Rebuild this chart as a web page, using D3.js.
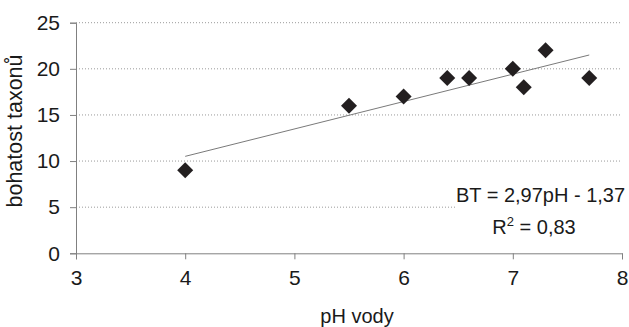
<!DOCTYPE html>
<html>
<head>
<meta charset="utf-8">
<script src="https://cdn.jsdelivr.net/npm/d3@7"></script>
<style>
  body { margin: 0; background: #fff; }
  svg text { font-family: "Liberation Sans", Arial, sans-serif; fill: #1a1a1a; }
</style>
</head>
<body>
<div id="chart"></div>
<script>
// measured values (pH vs. taxon richness)
const phValues = [4, 5.5, 6, 6.4, 6.6, 7, 7.1, 7.3, 7.7];
const richness = [9, 16, 17, 19, 19, 20, 18, 22, 19];
const xTicks = [3, 4, 5, 6, 7, 8];
const yTicks = [0, 5, 10, 15, 20, 25];
const trendCoef = [2.97, -1.37]; // slope, intercept
const eqLines = ['BT = 2,97pH - 1,37', 'R', '2', ' = 0,83'];

const width = 629, height = 327;
const margin = { top: 22.7, right: 7, bottom: 73.7, left: 76 };

const svg = d3.select('#chart').append('svg')
    .attr('width', width).attr('height', height);

const x = d3.scaleLinear().domain([3, 8]).range([margin.left, width - margin.right]);
const y = d3.scaleLinear().domain([0, 25]).range([height - margin.bottom, margin.top]);

// dotted gridlines
svg.append('g').selectAll('line')
    .data(yTicks.filter(d => d > 0)).enter()
    .append('line')
    .attr('x1', x(3)).attr('x2', x(8))
    .attr('y1', d => y(d)).attr('y2', d => y(d))
    .attr('stroke', '#9a9a9a')
    .attr('stroke-width', 1)
    .attr('stroke-dasharray', '1,2');

// axes
const xAxis = svg.append('g')
    .attr('transform', 'translate(0,' + y(0) + ')')
    .call(d3.axisBottom(x).tickValues(xTicks).tickFormat(d3.format('d')).tickSize(6).tickPadding(11));
const yAxis = svg.append('g')
    .attr('transform', 'translate(' + x(3) + ',0)')
    .call(d3.axisLeft(y).tickValues(yTicks).tickFormat(d3.format('d')).tickSize(6).tickPadding(10));

[xAxis, yAxis].forEach(ax => {
    ax.selectAll('path, line').attr('stroke', '#808080');
    ax.selectAll('text').style('font-size', '21px').attr('fill', '#1a1a1a');
});

// white box behind equation (covers part of gridline)
svg.append('rect')
    .attr('x', 455).attr('y', 180).attr('width', 172).attr('height', 62)
    .attr('fill', '#fff');

// trend line
const xExt = d3.extent(phValues);
const trend = d3.line().x(d => x(d)).y(d => y(trendCoef[0] * d + trendCoef[1]));
svg.append('path')
    .attr('d', trend(xExt))
    .attr('fill', 'none')
    .attr('stroke', '#7a7a7a')
    .attr('stroke-width', 1);

// diamond markers
const diamond = d3.symbol().type(d3.symbolSquare).size(128);
svg.append('g').selectAll('path')
    .data(phValues.map((p, i) => [p, richness[i]])).enter()
    .append('path')
    .attr('d', diamond)
    .attr('transform', d => 'translate(' + x(d[0]) + ',' + y(d[1]) + ') rotate(45)')
    .attr('fill', '#231f20');

// equation text
svg.append('text')
    .attr('x', 540.5).attr('y', 201.5)
    .attr('text-anchor', 'middle')
    .style('font-size', '20px')
    .text(eqLines[0]);
const r2 = svg.append('text')
    .attr('x', 534).attr('y', 234)
    .attr('text-anchor', 'middle')
    .style('font-size', '20px');
r2.append('tspan').text(eqLines[1]);
r2.append('tspan').attr('dy', -8).style('font-size', '13px').text(eqLines[2]);
r2.append('tspan').attr('dy', 8).text(eqLines[3]);

// axis titles
svg.append('text')
    .attr('x', 357).attr('y', 323)
    .attr('text-anchor', 'middle')
    .style('font-size', '20px')
    .text('pH vody');
svg.append('text')
    .attr('transform', 'translate(22,131) rotate(-90)')
    .attr('text-anchor', 'middle')
    .style('font-size', '21.5px')
    .text('bohatost taxonů');
</script>
</body>
</html>
